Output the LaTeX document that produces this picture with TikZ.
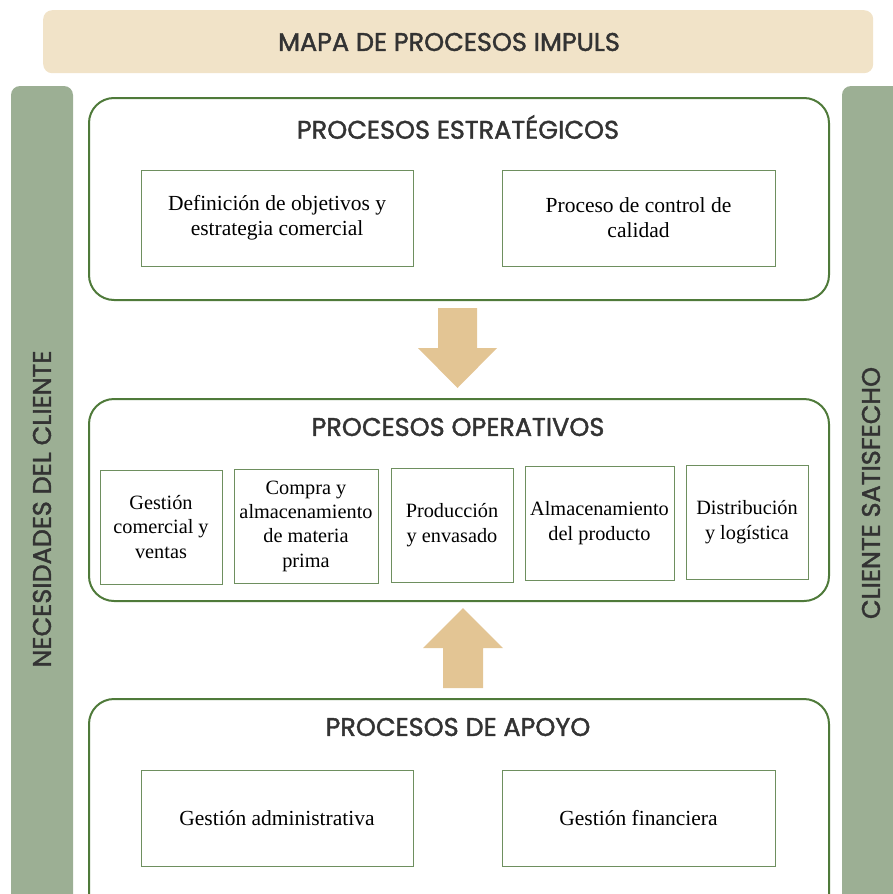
\documentclass[tikz,border=0pt]{standalone}
\usepackage{fontspec}
\setmainfont{Liberation Serif}
\newfontfamily\pop{Poppins}[FakeBold=1.6]
\definecolor{beige}{HTML}{F1E3C8}
\definecolor{sage}{HTML}{9CAF94}
\definecolor{dgreen}{HTML}{4F7A3A}
\definecolor{lgreen}{HTML}{6E8F5F}
\definecolor{tan}{HTML}{E3C594}
\definecolor{ink}{HTML}{333333}
\tikzset{
  bigbox/.style={draw=dgreen, line width=2pt, rounded corners=25pt, fill=white},
  inbox/.style={draw=lgreen, line width=1pt, fill=white, inner sep=0pt, align=center, font=\fontsize{21.5}{25}\selectfont, text=black},
  opbox/.style={draw=lgreen, line width=1pt, fill=white, inner sep=0pt, align=center, font=\fontsize{20.3}{24.3}\selectfont, text=black},
  ttl/.style={font=\pop\fontsize{25.5}{30}\selectfont, text=ink},
  sidettl/.style={font=\pop\fontsize{25.5}{30}\selectfont, text=ink, rotate=90},
  barrow/.style={fill=tan, draw=none}
}
\begin{document}
\begin{tikzpicture}[x=1pt,y=-1pt]
\useasboundingbox (0,0) rectangle (893,894);
\begin{scope}
\clip (0,0) rectangle (893,894);
% title bar
\node[fill=beige, rounded corners=9pt, minimum width=830pt, minimum height=63pt, inner sep=0pt, anchor=north west] (titlebar) at (43,10) {};
\node[ttl] (title) at (449,42) {MAPA DE PROCESOS IMPULS};
% side bars
\fill[sage, rounded corners=9pt] (11,86) rectangle (73,920);
\fill[sage, rounded corners=9pt] (842,86) rectangle (910,920);
\node[sidettl] (nec) at (42,509) {NECESIDADES DEL CLIENTE};
\node[sidettl] (sat) at (871,493) {CLIENTE SATISFECHO};
% strategic
\node[bigbox, minimum width=740pt, minimum height=202pt, anchor=north west] (estr) at (88,97) {};
\node[ttl] (estrt) at (458,127) {PROCESOS ESTRATÉGICOS};
\node[inbox, minimum width=272pt, minimum height=96pt] (def) at (277,218) {Definición de objetivos y\\estrategia comercial};
\node[inbox, minimum width=273pt, minimum height=96pt] (cal) at (638.5,218) {Proceso de control de\\calidad};
% operative
\node[bigbox, minimum width=740pt, minimum height=202pt, anchor=north west] (oper) at (88,398) {};
\node[ttl] (opert) at (458,427) {PROCESOS OPERATIVOS};
\node[opbox, minimum width=122pt, minimum height=114pt] (o1) at (161,527) {Gestión\\comercial y\\ventas};
\node[opbox, minimum width=144pt, minimum height=114pt] (o2) at (306,526) {Compra y\\almacenamiento\\de materia\\prima};
\node[opbox, minimum width=122pt, minimum height=114pt] (o3) at (452,525) {Producción\\y envasado};
\node[opbox, minimum width=149pt, minimum height=114pt] (o4) at (599.5,523) {Almacenamiento\\del producto};
\node[opbox, minimum width=122pt, minimum height=114pt] (o5) at (747,522) {Distribución\\y logística};
% support
\node[bigbox, minimum width=740pt, minimum height=240pt, anchor=north west] (apoyo) at (88,698) {};
\node[ttl] (apoyot) at (458,727) {PROCESOS DE APOYO};
\node[inbox, minimum width=272pt, minimum height=96pt] (adm) at (277,818) {Gestión administrativa};
\node[inbox, minimum width=273pt, minimum height=96pt] (fin) at (638.5,818) {Gestión financiera};
% block arrows
\fill[barrow] (438,308) -- (477,308) -- (477,348) -- (497,348) -- (457.5,388) -- (418,348) -- (438,348) -- cycle;
\fill[barrow] (443,688) -- (483,688) -- (483,648) -- (503,648) -- (463,608) -- (423,648) -- (443,648) -- cycle;
\end{scope}
\end{tikzpicture}
\end{document}
